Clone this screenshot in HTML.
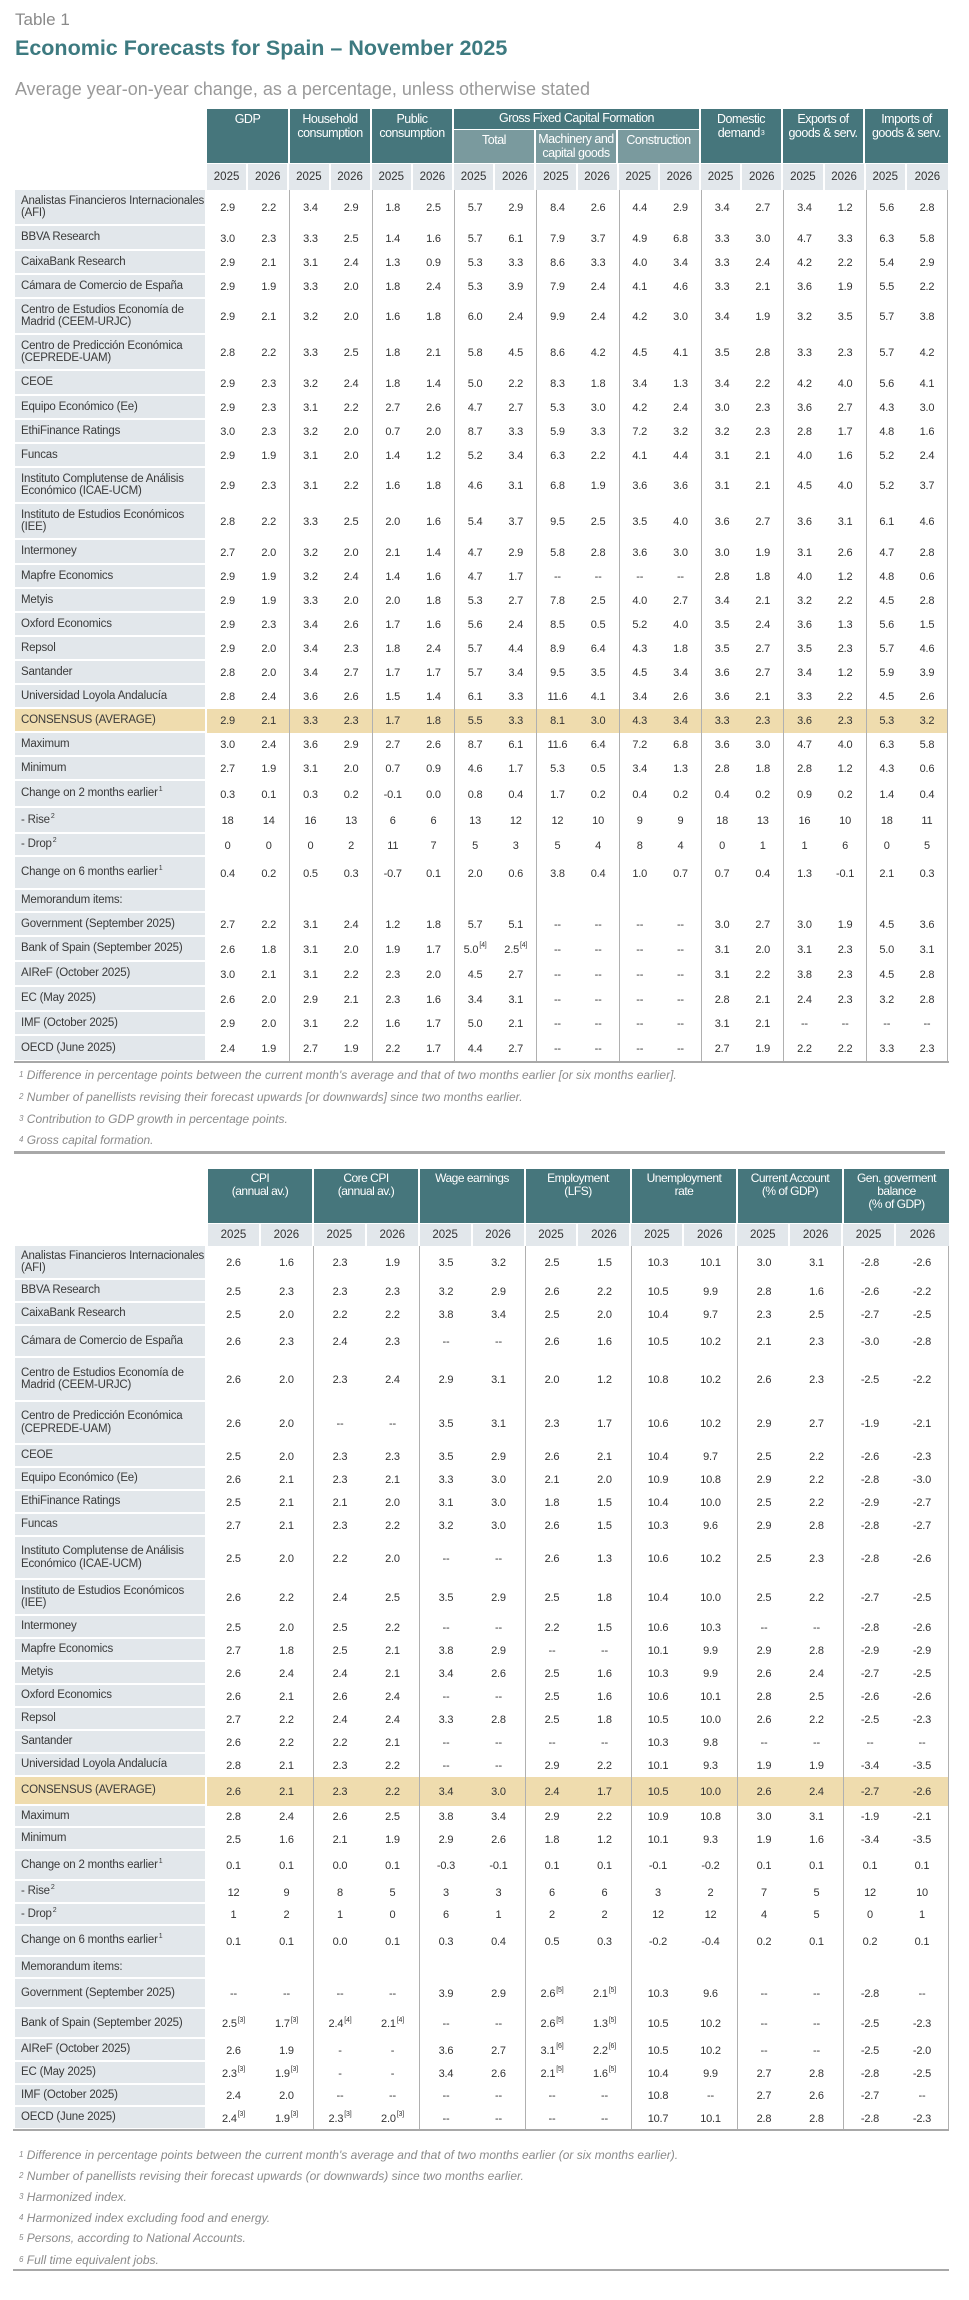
<!DOCTYPE html>
<html><head><meta charset="utf-8">
<style>
*{margin:0;padding:0;box-sizing:border-box}
body{width:969px;height:2300px;background:#fff;position:relative;font-family:"Liberation Sans",sans-serif;color:#333;overflow:hidden}
.abs{position:absolute}
.t1 .r{display:grid;grid-template-columns:192px repeat(18,1fr);width:933px}
.t2 .r{display:grid;grid-template-columns:192px repeat(14,1fr);width:934px}
.r>div{display:flex;align-items:center;justify-content:center;font-size:11px;letter-spacing:-0.2px}
.r>div:first-child{justify-content:flex-start;background:#e2e7eb;border-bottom:2px solid #fff;border-right:2px solid #fff;padding-left:6px;font-size:11.5px;line-height:12.5px;color:#3a3a3a}
.r>div:nth-child(2n+4){border-left:1px solid #b0b0b0}
.r>div:last-child{border-right:1px solid #b0b0b0}
.r.cs>div{background:#efdcae}
.r.cs>div:first-child{background:#efdcae}
sup{font-size:7px;line-height:7px;margin-left:1px;position:relative;top:-4px;vertical-align:baseline}
.h{position:absolute;background:#46767c;color:#fff;text-align:center;font-size:12.5px;line-height:14px;letter-spacing:-0.5px;padding-top:3px}
.h sup{top:-2px}
.hs{position:absolute;background:#7a9a9e;color:#fff;text-align:center;font-size:12.5px;line-height:14px;letter-spacing:-0.5px}
.y{position:absolute;background:#e2e7eb;font-size:11.5px;display:flex;align-items:center;justify-content:center;color:#333}
.fn{position:absolute;left:18px;font-style:italic;color:#8a8a8a;font-size:12px;line-height:14px}
.fn sup{font-size:8px;top:-2px}
</style></head><body>

<div class="abs" style="left:15px;top:10px;font-size:17px;color:#8a8a8a">Table 1</div>
<div class="abs" style="left:15px;top:36px;font-size:21.5px;font-weight:bold;color:#3d7a80">Economic Forecasts for Spain – November 2025</div>
<div class="abs" style="left:15px;top:79px;font-size:18px;color:#9a9a9a">Average year-on-year change, as a percentage, unless otherwise stated</div>

<!-- Table 1 header -->
<div class="h" style="left:207px;top:109px;width:81px;height:54px">GDP</div>
<div class="h" style="left:290px;top:109px;width:80px;height:54px">Household<br>consumption</div>
<div class="h" style="left:372px;top:109px;width:80px;height:54px">Public<br>consumption</div>
<div class="h" style="left:454px;top:109px;width:245px;height:20px;padding-top:2px">Gross Fixed Capital Formation</div>
<div class="hs" style="left:454px;top:130px;width:80px;height:33px;padding-top:3px">Total</div>
<div class="hs" style="left:536px;top:130px;width:80px;height:33px;padding-top:2px">Machinery and<br>capital goods</div>
<div class="hs" style="left:618px;top:130px;width:81px;height:33px;padding-top:3px">Construction</div>
<div class="h" style="left:701px;top:109px;width:80px;height:54px">Domestic<br>demand<sup>3</sup></div>
<div class="h" style="left:783px;top:109px;width:80px;height:54px">Exports of<br>goods &amp; serv.</div>
<div class="h" style="left:865px;top:109px;width:83px;height:54px">Imports of<br>goods &amp; serv.</div>
<div class="abs" style="left:207px;top:164px;width:741px;height:26px;display:grid;grid-template-columns:repeat(18,1fr)">
<div class="y" style="position:relative;border-right:2px solid #fff">2025</div><div class="y" style="position:relative;border-right:2px solid #fff">2026</div><div class="y" style="position:relative;border-right:2px solid #fff">2025</div><div class="y" style="position:relative;border-right:2px solid #fff">2026</div><div class="y" style="position:relative;border-right:2px solid #fff">2025</div><div class="y" style="position:relative;border-right:2px solid #fff">2026</div><div class="y" style="position:relative;border-right:2px solid #fff">2025</div><div class="y" style="position:relative;border-right:2px solid #fff">2026</div><div class="y" style="position:relative;border-right:2px solid #fff">2025</div><div class="y" style="position:relative;border-right:2px solid #fff">2026</div><div class="y" style="position:relative;border-right:2px solid #fff">2025</div><div class="y" style="position:relative;border-right:2px solid #fff">2026</div><div class="y" style="position:relative;border-right:2px solid #fff">2025</div><div class="y" style="position:relative;border-right:2px solid #fff">2026</div><div class="y" style="position:relative;border-right:2px solid #fff">2025</div><div class="y" style="position:relative;border-right:2px solid #fff">2026</div><div class="y" style="position:relative;border-right:2px solid #fff">2025</div><div class="y" style="position:relative">2026</div>
</div>

<div class="abs t1" style="left:15px;top:190px">
<div class="r" style="height:36px"><div>Analistas Financieros Internacionales<br>(AFI)</div><div>2.9</div><div>2.2</div><div>3.4</div><div>2.9</div><div>1.8</div><div>2.5</div><div>5.7</div><div>2.9</div><div>8.4</div><div>2.6</div><div>4.4</div><div>2.9</div><div>3.4</div><div>2.7</div><div>3.4</div><div>1.2</div><div>5.6</div><div>2.8</div></div>
<div class="r" style="height:25px"><div>BBVA Research</div><div>3.0</div><div>2.3</div><div>3.3</div><div>2.5</div><div>1.4</div><div>1.6</div><div>5.7</div><div>6.1</div><div>7.9</div><div>3.7</div><div>4.9</div><div>6.8</div><div>3.3</div><div>3.0</div><div>4.7</div><div>3.3</div><div>6.3</div><div>5.8</div></div>
<div class="r" style="height:24px"><div>CaixaBank Research</div><div>2.9</div><div>2.1</div><div>3.1</div><div>2.4</div><div>1.3</div><div>0.9</div><div>5.3</div><div>3.3</div><div>8.6</div><div>3.3</div><div>4.0</div><div>3.4</div><div>3.3</div><div>2.4</div><div>4.2</div><div>2.2</div><div>5.4</div><div>2.9</div></div>
<div class="r" style="height:24px"><div>Cámara de Comercio de España</div><div>2.9</div><div>1.9</div><div>3.3</div><div>2.0</div><div>1.8</div><div>2.4</div><div>5.3</div><div>3.9</div><div>7.9</div><div>2.4</div><div>4.1</div><div>4.6</div><div>3.3</div><div>2.1</div><div>3.6</div><div>1.9</div><div>5.5</div><div>2.2</div></div>
<div class="r" style="height:36px"><div>Centro de Estudios Economía de<br>Madrid (CEEM-URJC)</div><div>2.9</div><div>2.1</div><div>3.2</div><div>2.0</div><div>1.6</div><div>1.8</div><div>6.0</div><div>2.4</div><div>9.9</div><div>2.4</div><div>4.2</div><div>3.0</div><div>3.4</div><div>1.9</div><div>3.2</div><div>3.5</div><div>5.7</div><div>3.8</div></div>
<div class="r" style="height:36px"><div>Centro de Predicción Económica<br>(CEPREDE-UAM)</div><div>2.8</div><div>2.2</div><div>3.3</div><div>2.5</div><div>1.8</div><div>2.1</div><div>5.8</div><div>4.5</div><div>8.6</div><div>4.2</div><div>4.5</div><div>4.1</div><div>3.5</div><div>2.8</div><div>3.3</div><div>2.3</div><div>5.7</div><div>4.2</div></div>
<div class="r" style="height:25px"><div>CEOE</div><div>2.9</div><div>2.3</div><div>3.2</div><div>2.4</div><div>1.8</div><div>1.4</div><div>5.0</div><div>2.2</div><div>8.3</div><div>1.8</div><div>3.4</div><div>1.3</div><div>3.4</div><div>2.2</div><div>4.2</div><div>4.0</div><div>5.6</div><div>4.1</div></div>
<div class="r" style="height:24px"><div>Equipo Económico (Ee)</div><div>2.9</div><div>2.3</div><div>3.1</div><div>2.2</div><div>2.7</div><div>2.6</div><div>4.7</div><div>2.7</div><div>5.3</div><div>3.0</div><div>4.2</div><div>2.4</div><div>3.0</div><div>2.3</div><div>3.6</div><div>2.7</div><div>4.3</div><div>3.0</div></div>
<div class="r" style="height:24px"><div>EthiFinance Ratings</div><div>3.0</div><div>2.3</div><div>3.2</div><div>2.0</div><div>0.7</div><div>2.0</div><div>8.7</div><div>3.3</div><div>5.9</div><div>3.3</div><div>7.2</div><div>3.2</div><div>3.2</div><div>2.3</div><div>2.8</div><div>1.7</div><div>4.8</div><div>1.6</div></div>
<div class="r" style="height:24px"><div>Funcas</div><div>2.9</div><div>1.9</div><div>3.1</div><div>2.0</div><div>1.4</div><div>1.2</div><div>5.2</div><div>3.4</div><div>6.3</div><div>2.2</div><div>4.1</div><div>4.4</div><div>3.1</div><div>2.1</div><div>4.0</div><div>1.6</div><div>5.2</div><div>2.4</div></div>
<div class="r" style="height:36px"><div>Instituto Complutense de Análisis<br>Económico (ICAE-UCM)</div><div>2.9</div><div>2.3</div><div>3.1</div><div>2.2</div><div>1.6</div><div>1.8</div><div>4.6</div><div>3.1</div><div>6.8</div><div>1.9</div><div>3.6</div><div>3.6</div><div>3.1</div><div>2.1</div><div>4.5</div><div>4.0</div><div>5.2</div><div>3.7</div></div>
<div class="r" style="height:36px"><div>Instituto de Estudios Económicos<br>(IEE)</div><div>2.8</div><div>2.2</div><div>3.3</div><div>2.5</div><div>2.0</div><div>1.6</div><div>5.4</div><div>3.7</div><div>9.5</div><div>2.5</div><div>3.5</div><div>4.0</div><div>3.6</div><div>2.7</div><div>3.6</div><div>3.1</div><div>6.1</div><div>4.6</div></div>
<div class="r" style="height:25px"><div>Intermoney</div><div>2.7</div><div>2.0</div><div>3.2</div><div>2.0</div><div>2.1</div><div>1.4</div><div>4.7</div><div>2.9</div><div>5.8</div><div>2.8</div><div>3.6</div><div>3.0</div><div>3.0</div><div>1.9</div><div>3.1</div><div>2.6</div><div>4.7</div><div>2.8</div></div>
<div class="r" style="height:24px"><div>Mapfre Economics</div><div>2.9</div><div>1.9</div><div>3.2</div><div>2.4</div><div>1.4</div><div>1.6</div><div>4.7</div><div>1.7</div><div>--</div><div>--</div><div>--</div><div>--</div><div>2.8</div><div>1.8</div><div>4.0</div><div>1.2</div><div>4.8</div><div>0.6</div></div>
<div class="r" style="height:24px"><div>Metyis</div><div>2.9</div><div>1.9</div><div>3.3</div><div>2.0</div><div>2.0</div><div>1.8</div><div>5.3</div><div>2.7</div><div>7.8</div><div>2.5</div><div>4.0</div><div>2.7</div><div>3.4</div><div>2.1</div><div>3.2</div><div>2.2</div><div>4.5</div><div>2.8</div></div>
<div class="r" style="height:24px"><div>Oxford Economics</div><div>2.9</div><div>2.3</div><div>3.4</div><div>2.6</div><div>1.7</div><div>1.6</div><div>5.6</div><div>2.4</div><div>8.5</div><div>0.5</div><div>5.2</div><div>4.0</div><div>3.5</div><div>2.4</div><div>3.6</div><div>1.3</div><div>5.6</div><div>1.5</div></div>
<div class="r" style="height:24px"><div>Repsol</div><div>2.9</div><div>2.0</div><div>3.4</div><div>2.3</div><div>1.8</div><div>2.4</div><div>5.7</div><div>4.4</div><div>8.9</div><div>6.4</div><div>4.3</div><div>1.8</div><div>3.5</div><div>2.7</div><div>3.5</div><div>2.3</div><div>5.7</div><div>4.6</div></div>
<div class="r" style="height:24px"><div>Santander</div><div>2.8</div><div>2.0</div><div>3.4</div><div>2.7</div><div>1.7</div><div>1.7</div><div>5.7</div><div>3.4</div><div>9.5</div><div>3.5</div><div>4.5</div><div>3.4</div><div>3.6</div><div>2.7</div><div>3.4</div><div>1.2</div><div>5.9</div><div>3.9</div></div>
<div class="r" style="height:24px"><div>Universidad Loyola Andalucía</div><div>2.8</div><div>2.4</div><div>3.6</div><div>2.6</div><div>1.5</div><div>1.4</div><div>6.1</div><div>3.3</div><div>11.6</div><div>4.1</div><div>3.4</div><div>2.6</div><div>3.6</div><div>2.1</div><div>3.3</div><div>2.2</div><div>4.5</div><div>2.6</div></div>
<div class="r cs" style="height:24px"><div>CONSENSUS (AVERAGE)</div><div>2.9</div><div>2.1</div><div>3.3</div><div>2.3</div><div>1.7</div><div>1.8</div><div>5.5</div><div>3.3</div><div>8.1</div><div>3.0</div><div>4.3</div><div>3.4</div><div>3.3</div><div>2.3</div><div>3.6</div><div>2.3</div><div>5.3</div><div>3.2</div></div>
<div class="r" style="height:24px"><div>Maximum</div><div>3.0</div><div>2.4</div><div>3.6</div><div>2.9</div><div>2.7</div><div>2.6</div><div>8.7</div><div>6.1</div><div>11.6</div><div>6.4</div><div>7.2</div><div>6.8</div><div>3.6</div><div>3.0</div><div>4.7</div><div>4.0</div><div>6.3</div><div>5.8</div></div>
<div class="r" style="height:24px"><div>Minimum</div><div>2.7</div><div>1.9</div><div>3.1</div><div>2.0</div><div>0.7</div><div>0.9</div><div>4.6</div><div>1.7</div><div>5.3</div><div>0.5</div><div>3.4</div><div>1.3</div><div>2.8</div><div>1.8</div><div>2.8</div><div>1.2</div><div>4.3</div><div>0.6</div></div>
<div class="r" style="height:27px"><div>Change on 2 months earlier<sup>1</sup></div><div>0.3</div><div>0.1</div><div>0.3</div><div>0.2</div><div>-0.1</div><div>0.0</div><div>0.8</div><div>0.4</div><div>1.7</div><div>0.2</div><div>0.4</div><div>0.2</div><div>0.4</div><div>0.2</div><div>0.9</div><div>0.2</div><div>1.4</div><div>0.4</div></div>
<div class="r" style="height:26px"><div>- Rise<sup>2</sup></div><div>18</div><div>14</div><div>16</div><div>13</div><div>6</div><div>6</div><div>13</div><div>12</div><div>12</div><div>10</div><div>9</div><div>9</div><div>18</div><div>13</div><div>16</div><div>10</div><div>18</div><div>11</div></div>
<div class="r" style="height:23px"><div>- Drop<sup>2</sup></div><div>0</div><div>0</div><div>0</div><div>2</div><div>11</div><div>7</div><div>5</div><div>3</div><div>5</div><div>4</div><div>8</div><div>4</div><div>0</div><div>1</div><div>1</div><div>6</div><div>0</div><div>5</div></div>
<div class="r" style="height:33px"><div>Change on 6 months earlier<sup>1</sup></div><div>0.4</div><div>0.2</div><div>0.5</div><div>0.3</div><div>-0.7</div><div>0.1</div><div>2.0</div><div>0.6</div><div>3.8</div><div>0.4</div><div>1.0</div><div>0.7</div><div>0.7</div><div>0.4</div><div>1.3</div><div>-0.1</div><div>2.1</div><div>0.3</div></div>
<div class="r" style="height:23px"><div>Memorandum items:</div><div></div><div></div><div></div><div></div><div></div><div></div><div></div><div></div><div></div><div></div><div></div><div></div><div></div><div></div><div></div><div></div><div></div><div></div></div>
<div class="r" style="height:24px"><div>Government (September 2025)</div><div>2.7</div><div>2.2</div><div>3.1</div><div>2.4</div><div>1.2</div><div>1.8</div><div>5.7</div><div>5.1</div><div>--</div><div>--</div><div>--</div><div>--</div><div>3.0</div><div>2.7</div><div>3.0</div><div>1.9</div><div>4.5</div><div>3.6</div></div>
<div class="r" style="height:25px"><div>Bank of Spain (September 2025)</div><div>2.6</div><div>1.8</div><div>3.1</div><div>2.0</div><div>1.9</div><div>1.7</div><div>5.0<sup>[4]</sup></div><div>2.5<sup>[4]</sup></div><div>--</div><div>--</div><div>--</div><div>--</div><div>3.1</div><div>2.0</div><div>3.1</div><div>2.3</div><div>5.0</div><div>3.1</div></div>
<div class="r" style="height:25px"><div>AIReF (October 2025)</div><div>3.0</div><div>2.1</div><div>3.1</div><div>2.2</div><div>2.3</div><div>2.0</div><div>4.5</div><div>2.7</div><div>--</div><div>--</div><div>--</div><div>--</div><div>3.1</div><div>2.2</div><div>3.8</div><div>2.3</div><div>4.5</div><div>2.8</div></div>
<div class="r" style="height:25px"><div>EC (May 2025)</div><div>2.6</div><div>2.0</div><div>2.9</div><div>2.1</div><div>2.3</div><div>1.6</div><div>3.4</div><div>3.1</div><div>--</div><div>--</div><div>--</div><div>--</div><div>2.8</div><div>2.1</div><div>2.4</div><div>2.3</div><div>3.2</div><div>2.8</div></div>
<div class="r" style="height:24px"><div>IMF (October 2025)</div><div>2.9</div><div>2.0</div><div>3.1</div><div>2.2</div><div>1.6</div><div>1.7</div><div>5.0</div><div>2.1</div><div>--</div><div>--</div><div>--</div><div>--</div><div>3.1</div><div>2.1</div><div>--</div><div>--</div><div>--</div><div>--</div></div>
<div class="r" style="height:26px"><div>OECD (June 2025)</div><div>2.4</div><div>1.9</div><div>2.7</div><div>1.9</div><div>2.2</div><div>1.7</div><div>4.4</div><div>2.7</div><div>--</div><div>--</div><div>--</div><div>--</div><div>2.7</div><div>1.9</div><div>2.2</div><div>2.2</div><div>3.3</div><div>2.3</div></div>
</div>
<div class="abs" style="left:14px;top:1061px;width:935px;height:2px;background:#a8a8a8"></div>
<div class="fn" style="top:1068px"><sup>1</sup> Difference in percentage points between the current month's average and that of two months earlier [or six months earlier].</div>
<div class="fn" style="top:1090px"><sup>2</sup> Number of panellists revising their forecast upwards [or downwards] since two months earlier.</div>
<div class="fn" style="top:1112px"><sup>3</sup> Contribution to GDP growth in percentage points.</div>
<div class="fn" style="top:1133px"><sup>4</sup> Gross capital formation.</div>
<div class="abs" style="left:14px;top:1151px;width:931px;height:3px;background:#a8a8a8"></div>

<!-- Table 2 header -->
<div class="h" style="left:208px;top:1169px;width:104px;height:54px;font-size:12px;line-height:13px">CPI<br>(annual av.)</div>
<div class="h" style="left:314px;top:1169px;width:104px;height:54px;font-size:12px;line-height:13px">Core CPI<br>(annual av.)</div>
<div class="h" style="left:420px;top:1169px;width:104px;height:54px;font-size:12px;line-height:13px">Wage earnings</div>
<div class="h" style="left:526px;top:1169px;width:104px;height:54px;font-size:12px;line-height:13px">Employment<br>(LFS)</div>
<div class="h" style="left:632px;top:1169px;width:104px;height:54px;font-size:12px;line-height:13px">Unemployment<br>rate</div>
<div class="h" style="left:738px;top:1169px;width:104px;height:54px;font-size:12px;line-height:13px">Current Account<br>(% of GDP)</div>
<div class="h" style="left:844px;top:1169px;width:105px;height:54px;font-size:12px;line-height:13px">Gen. goverment<br>balance<br>(% of GDP)</div>
<div class="abs" style="left:208px;top:1224px;width:741px;height:22px;display:grid;grid-template-columns:repeat(14,1fr)">
<div class="y" style="position:relative;border-right:2px solid #fff">2025</div><div class="y" style="position:relative;border-right:2px solid #fff">2026</div><div class="y" style="position:relative;border-right:2px solid #fff">2025</div><div class="y" style="position:relative;border-right:2px solid #fff">2026</div><div class="y" style="position:relative;border-right:2px solid #fff">2025</div><div class="y" style="position:relative;border-right:2px solid #fff">2026</div><div class="y" style="position:relative;border-right:2px solid #fff">2025</div><div class="y" style="position:relative;border-right:2px solid #fff">2026</div><div class="y" style="position:relative;border-right:2px solid #fff">2025</div><div class="y" style="position:relative;border-right:2px solid #fff">2026</div><div class="y" style="position:relative;border-right:2px solid #fff">2025</div><div class="y" style="position:relative;border-right:2px solid #fff">2026</div><div class="y" style="position:relative;border-right:2px solid #fff">2025</div><div class="y" style="position:relative">2026</div>
</div>

<div class="abs t2" style="left:15px;top:1246px">
<div class="r" style="height:34px"><div>Analistas Financieros Internacionales<br>(AFI)</div><div>2.6</div><div>1.6</div><div>2.3</div><div>1.9</div><div>3.5</div><div>3.2</div><div>2.5</div><div>1.5</div><div>10.3</div><div>10.1</div><div>3.0</div><div>3.1</div><div>-2.8</div><div>-2.6</div></div>
<div class="r" style="height:23px"><div>BBVA Research</div><div>2.5</div><div>2.3</div><div>2.3</div><div>2.3</div><div>3.2</div><div>2.9</div><div>2.6</div><div>2.2</div><div>10.5</div><div>9.9</div><div>2.8</div><div>1.6</div><div>-2.6</div><div>-2.2</div></div>
<div class="r" style="height:23px"><div>CaixaBank Research</div><div>2.5</div><div>2.0</div><div>2.2</div><div>2.2</div><div>3.8</div><div>3.4</div><div>2.5</div><div>2.0</div><div>10.4</div><div>9.7</div><div>2.3</div><div>2.5</div><div>-2.7</div><div>-2.5</div></div>
<div class="r" style="height:32px"><div>Cámara de Comercio de España</div><div>2.6</div><div>2.3</div><div>2.4</div><div>2.3</div><div>--</div><div>--</div><div>2.6</div><div>1.6</div><div>10.5</div><div>10.2</div><div>2.1</div><div>2.3</div><div>-3.0</div><div>-2.8</div></div>
<div class="r" style="height:44px"><div>Centro de Estudios Economía de<br>Madrid (CEEM-URJC)</div><div>2.6</div><div>2.0</div><div>2.3</div><div>2.4</div><div>2.9</div><div>3.1</div><div>2.0</div><div>1.2</div><div>10.8</div><div>10.2</div><div>2.6</div><div>2.3</div><div>-2.5</div><div>-2.2</div></div>
<div class="r" style="height:43px"><div>Centro de Predicción Económica<br>(CEPREDE-UAM)</div><div>2.6</div><div>2.0</div><div>--</div><div>--</div><div>3.5</div><div>3.1</div><div>2.3</div><div>1.7</div><div>10.6</div><div>10.2</div><div>2.9</div><div>2.7</div><div>-1.9</div><div>-2.1</div></div>
<div class="r" style="height:23px"><div>CEOE</div><div>2.5</div><div>2.0</div><div>2.3</div><div>2.3</div><div>3.5</div><div>2.9</div><div>2.6</div><div>2.1</div><div>10.4</div><div>9.7</div><div>2.5</div><div>2.2</div><div>-2.6</div><div>-2.3</div></div>
<div class="r" style="height:23px"><div>Equipo Económico (Ee)</div><div>2.6</div><div>2.1</div><div>2.3</div><div>2.1</div><div>3.3</div><div>3.0</div><div>2.1</div><div>2.0</div><div>10.9</div><div>10.8</div><div>2.9</div><div>2.2</div><div>-2.8</div><div>-3.0</div></div>
<div class="r" style="height:23px"><div>EthiFinance Ratings</div><div>2.5</div><div>2.1</div><div>2.1</div><div>2.0</div><div>3.1</div><div>3.0</div><div>1.8</div><div>1.5</div><div>10.4</div><div>10.0</div><div>2.5</div><div>2.2</div><div>-2.9</div><div>-2.7</div></div>
<div class="r" style="height:23px"><div>Funcas</div><div>2.7</div><div>2.1</div><div>2.3</div><div>2.2</div><div>3.2</div><div>3.0</div><div>2.6</div><div>1.5</div><div>10.3</div><div>9.6</div><div>2.9</div><div>2.8</div><div>-2.8</div><div>-2.7</div></div>
<div class="r" style="height:43px"><div>Instituto Complutense de Análisis<br>Económico (ICAE-UCM)</div><div>2.5</div><div>2.0</div><div>2.2</div><div>2.0</div><div>--</div><div>--</div><div>2.6</div><div>1.3</div><div>10.6</div><div>10.2</div><div>2.5</div><div>2.3</div><div>-2.8</div><div>-2.6</div></div>
<div class="r" style="height:36px"><div>Instituto de Estudios Económicos<br>(IEE)</div><div>2.6</div><div>2.2</div><div>2.4</div><div>2.5</div><div>3.5</div><div>2.9</div><div>2.5</div><div>1.8</div><div>10.4</div><div>10.0</div><div>2.5</div><div>2.2</div><div>-2.7</div><div>-2.5</div></div>
<div class="r" style="height:23px"><div>Intermoney</div><div>2.5</div><div>2.0</div><div>2.5</div><div>2.2</div><div>--</div><div>--</div><div>2.2</div><div>1.5</div><div>10.6</div><div>10.3</div><div>--</div><div>--</div><div>-2.8</div><div>-2.6</div></div>
<div class="r" style="height:23px"><div>Mapfre Economics</div><div>2.7</div><div>1.8</div><div>2.5</div><div>2.1</div><div>3.8</div><div>2.9</div><div>--</div><div>--</div><div>10.1</div><div>9.9</div><div>2.9</div><div>2.8</div><div>-2.9</div><div>-2.9</div></div>
<div class="r" style="height:23px"><div>Metyis</div><div>2.6</div><div>2.4</div><div>2.4</div><div>2.1</div><div>3.4</div><div>2.6</div><div>2.5</div><div>1.6</div><div>10.3</div><div>9.9</div><div>2.6</div><div>2.4</div><div>-2.7</div><div>-2.5</div></div>
<div class="r" style="height:23px"><div>Oxford Economics</div><div>2.6</div><div>2.1</div><div>2.6</div><div>2.4</div><div>--</div><div>--</div><div>2.5</div><div>1.6</div><div>10.6</div><div>10.1</div><div>2.8</div><div>2.5</div><div>-2.6</div><div>-2.6</div></div>
<div class="r" style="height:23px"><div>Repsol</div><div>2.7</div><div>2.2</div><div>2.4</div><div>2.4</div><div>3.3</div><div>2.8</div><div>2.5</div><div>1.8</div><div>10.5</div><div>10.0</div><div>2.6</div><div>2.2</div><div>-2.5</div><div>-2.3</div></div>
<div class="r" style="height:23px"><div>Santander</div><div>2.6</div><div>2.2</div><div>2.2</div><div>2.1</div><div>--</div><div>--</div><div>--</div><div>--</div><div>10.3</div><div>9.8</div><div>--</div><div>--</div><div>--</div><div>--</div></div>
<div class="r" style="height:23px"><div>Universidad Loyola Andalucía</div><div>2.8</div><div>2.1</div><div>2.3</div><div>2.2</div><div>--</div><div>--</div><div>2.9</div><div>2.2</div><div>10.1</div><div>9.3</div><div>1.9</div><div>1.9</div><div>-3.4</div><div>-3.5</div></div>
<div class="r cs" style="height:29px"><div>CONSENSUS (AVERAGE)</div><div>2.6</div><div>2.1</div><div>2.3</div><div>2.2</div><div>3.4</div><div>3.0</div><div>2.4</div><div>1.7</div><div>10.5</div><div>10.0</div><div>2.6</div><div>2.4</div><div>-2.7</div><div>-2.6</div></div>
<div class="r" style="height:22px"><div>Maximum</div><div>2.8</div><div>2.4</div><div>2.6</div><div>2.5</div><div>3.8</div><div>3.4</div><div>2.9</div><div>2.2</div><div>10.9</div><div>10.8</div><div>3.0</div><div>3.1</div><div>-1.9</div><div>-2.1</div></div>
<div class="r" style="height:23px"><div>Minimum</div><div>2.5</div><div>1.6</div><div>2.1</div><div>1.9</div><div>2.9</div><div>2.6</div><div>1.8</div><div>1.2</div><div>10.1</div><div>9.3</div><div>1.9</div><div>1.6</div><div>-3.4</div><div>-3.5</div></div>
<div class="r" style="height:30px"><div>Change on 2 months earlier<sup>1</sup></div><div>0.1</div><div>0.1</div><div>0.0</div><div>0.1</div><div>-0.3</div><div>-0.1</div><div>0.1</div><div>0.1</div><div>-0.1</div><div>-0.2</div><div>0.1</div><div>0.1</div><div>0.1</div><div>0.1</div></div>
<div class="r" style="height:23px"><div>- Rise<sup>2</sup></div><div>12</div><div>9</div><div>8</div><div>5</div><div>3</div><div>3</div><div>6</div><div>6</div><div>3</div><div>2</div><div>7</div><div>5</div><div>12</div><div>10</div></div>
<div class="r" style="height:22px"><div>- Drop<sup>2</sup></div><div>1</div><div>2</div><div>1</div><div>0</div><div>6</div><div>1</div><div>2</div><div>2</div><div>12</div><div>12</div><div>4</div><div>5</div><div>0</div><div>1</div></div>
<div class="r" style="height:31px"><div>Change on 6 months earlier<sup>1</sup></div><div>0.1</div><div>0.1</div><div>0.0</div><div>0.1</div><div>0.3</div><div>0.4</div><div>0.5</div><div>0.3</div><div>-0.2</div><div>-0.4</div><div>0.2</div><div>0.1</div><div>0.2</div><div>0.1</div></div>
<div class="r" style="height:22px"><div>Memorandum items:</div><div></div><div></div><div></div><div></div><div></div><div></div><div></div><div></div><div></div><div></div><div></div><div></div><div></div><div></div></div>
<div class="r" style="height:30px"><div>Government (September 2025)</div><div>--</div><div>--</div><div>--</div><div>--</div><div>3.9</div><div>2.9</div><div>2.6<sup>[5]</sup></div><div>2.1<sup>[5]</sup></div><div>10.3</div><div>9.6</div><div>--</div><div>--</div><div>-2.8</div><div>--</div></div>
<div class="r" style="height:30px"><div>Bank of Spain (September 2025)</div><div>2.5<sup>[3]</sup></div><div>1.7<sup>[3]</sup></div><div>2.4<sup>[4]</sup></div><div>2.1<sup>[4]</sup></div><div>--</div><div>--</div><div>2.6<sup>[5]</sup></div><div>1.3<sup>[5]</sup></div><div>10.5</div><div>10.2</div><div>--</div><div>--</div><div>-2.5</div><div>-2.3</div></div>
<div class="r" style="height:23px"><div>AIReF (October 2025)</div><div>2.6</div><div>1.9</div><div>-</div><div>-</div><div>3.6</div><div>2.7</div><div>3.1<sup>[6]</sup></div><div>2.2<sup>[6]</sup></div><div>10.5</div><div>10.2</div><div>--</div><div>--</div><div>-2.5</div><div>-2.0</div></div>
<div class="r" style="height:23px"><div>EC (May 2025)</div><div>2.3<sup>[3]</sup></div><div>1.9<sup>[3]</sup></div><div>-</div><div>-</div><div>3.4</div><div>2.6</div><div>2.1<sup>[5]</sup></div><div>1.6<sup>[5]</sup></div><div>10.4</div><div>9.9</div><div>2.7</div><div>2.8</div><div>-2.8</div><div>-2.5</div></div>
<div class="r" style="height:22px"><div>IMF (October 2025)</div><div>2.4</div><div>2.0</div><div>--</div><div>--</div><div>--</div><div>--</div><div>--</div><div>--</div><div>10.8</div><div>--</div><div>2.7</div><div>2.6</div><div>-2.7</div><div>--</div></div>
<div class="r" style="height:23px"><div>OECD (June 2025)</div><div>2.4<sup>[3]</sup></div><div>1.9<sup>[3]</sup></div><div>2.3<sup>[3]</sup></div><div>2.0<sup>[3]</sup></div><div>--</div><div>--</div><div>--</div><div>--</div><div>10.7</div><div>10.1</div><div>2.8</div><div>2.8</div><div>-2.8</div><div>-2.3</div></div>
</div>
<div class="abs" style="left:13px;top:2129px;width:936px;height:2px;background:#a8a8a8"></div>
<div class="fn" style="top:2148px"><sup>1</sup> Difference in percentage points between the current month's average and that of two months earlier (or six months earlier).</div>
<div class="fn" style="top:2169px"><sup>2</sup> Number of panellists revising their forecast upwards (or downwards) since two months earlier.</div>
<div class="fn" style="top:2190px"><sup>3</sup> Harmonized index.</div>
<div class="fn" style="top:2211px"><sup>4</sup> Harmonized index excluding food and energy.</div>
<div class="fn" style="top:2231px"><sup>5</sup> Persons, according to National Accounts.</div>
<div class="fn" style="top:2253px"><sup>6</sup> Full time equivalent jobs.</div>
<div class="abs" style="left:13px;top:2269px;width:936px;height:2px;background:#a8a8a8"></div>
</body></html>
